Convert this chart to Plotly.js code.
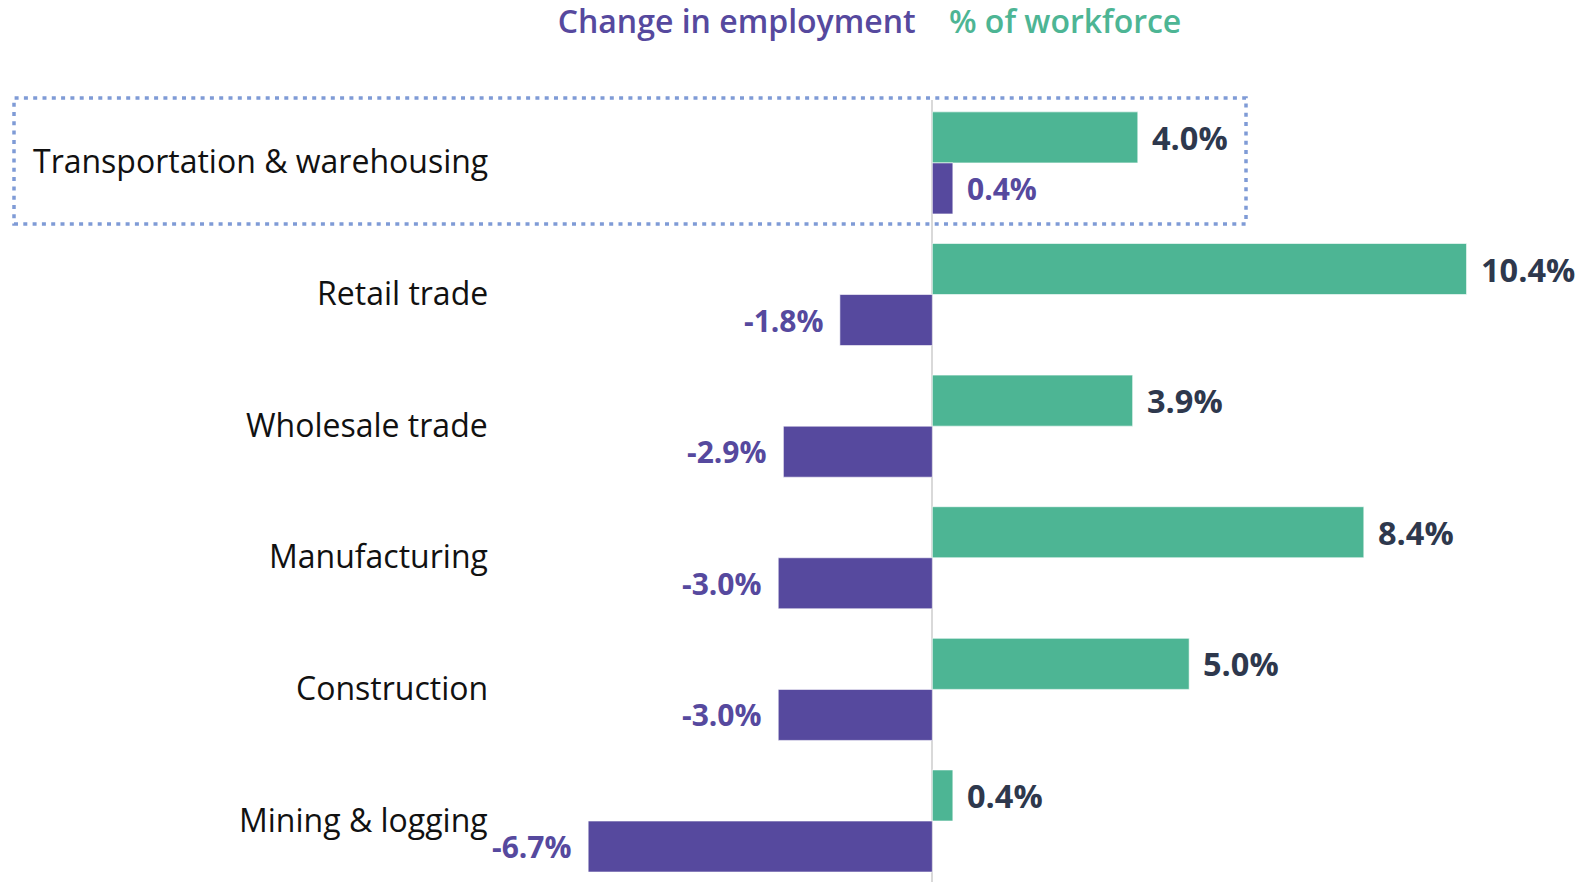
<!DOCTYPE html>
<html>
<head>
<meta charset="utf-8">
<script src="https://cdn.plot.ly/plotly-3.0.1.min.js"></script>
<style>html,body{margin:0;padding:0;background:#fff;}#chart{width:1596px;height:882px;}</style>
</head>
<body>
<div id="chart"></div>
<script>
// Data (top to bottom as in the picture)
const categories = ["Transportation & warehousing", "Retail trade", "Wholesale trade", "Manufacturing", "Construction", "Mining & logging"];
const workforceShare = [4.0, 10.4, 3.9, 8.4, 5.0, 0.4];      // % of workforce
const employmentChange = [0.4, -1.8, -2.9, -3.0, -3.0, -6.7]; // change in employment
const workforceLabels = ["4.0%", "10.4%", "3.9%", "8.4%", "5.0%", "0.4%"];
const changeLabels = ["0.4%", "-1.8%", "-2.9%", "-3.0%", "-3.0%", "-6.7%"];

const PURPLE = "#56499e";
const GREEN = "#4db594";
const DARK = "#2e384d";
const FONT = "Open Sans, Noto Sans, sans-serif";

const traces = [
  {
    type: "bar", orientation: "h", name: "% of workforce",
    y: categories, x: workforceShare,
    marker: {color: GREEN, line: {color: "rgba(255,255,255,0.6)", width: 1}},
    hoverinfo: "skip"
  },
  {
    type: "bar", orientation: "h", name: "Change in employment",
    y: categories, x: employmentChange,
    marker: {color: PURPLE, line: {color: "rgba(255,255,255,0.6)", width: 1}},
    hoverinfo: "skip"
  }
];

const annotations = [];
categories.forEach((c, i) => {
  annotations.push({
    xref: "paper", yref: "y", x: 490 / 1596, y: c, xanchor: "right", yanchor: "middle",
    yshift: 2, text: c, showarrow: false, font: {family: FONT, size: 32, color: "#111111"}
  });
  annotations.push({
    xref: "x", yref: "y", x: workforceShare[i], y: c, xanchor: "left", yanchor: "middle",
    xshift: 12, yshift: 25.5, text: workforceLabels[i], showarrow: false,
    font: {family: FONT, size: 32.5, color: DARK, weight: 700}
  });
  const v = employmentChange[i];
  annotations.push({
    xref: "x", yref: "y", x: v, y: c, xanchor: v >= 0 ? "left" : "right", yanchor: "middle",
    xshift: v >= 0 ? 12 : -14, yshift: -25.5, text: changeLabels[i], showarrow: false,
    font: {family: FONT, size: 30, color: PURPLE, weight: 700}
  });
});

const layout = {
  width: 1596, height: 882,
  margin: {l: 0, r: 0, t: 100, b: 0, pad: 0},
  paper_bgcolor: "#ffffff", plot_bgcolor: "#ffffff",
  showlegend: false,
  barmode: "group", bargap: 0.2244, bargroupgap: 0,
  title: {
    text: '<span style="color:' + PURPLE + '">Change in employment</span>&nbsp;&nbsp;&nbsp;&nbsp;<span style="color:' + GREEN + '">% of workforce</span>',
    x: 869.5 / 1596, xanchor: "center", xref: "paper",
    y: 1 - 22 / 882, yanchor: "middle", yref: "container",
    font: {family: FONT, size: 32, weight: 600}
  },
  xaxis: {
    range: [-18.15, 12.92], showgrid: false, showticklabels: false, ticks: "",
    zeroline: true, zerolinecolor: "#d9d9d9", zerolinewidth: 2, showline: false, fixedrange: true
  },
  yaxis: {
    type: "category", range: [5.4635, -0.478], showgrid: false, showticklabels: false,
    ticks: "", zeroline: false, showline: false, fixedrange: true
  },
  shapes: [{
    type: "rect", xref: "paper", yref: "paper",
    x0: 14 / 1596, x1: 1246 / 1596, y0: (882 - 224) / 782, y1: (882 - 98) / 782,
    line: {color: "#7f9bd6", width: 3.5, dash: "4px,5.3px"}, fillcolor: "rgba(0,0,0,0)", layer: "above"
  }],
  annotations: annotations,
  font: {family: FONT}
};

Plotly.newPlot("chart", traces, layout, {staticPlot: true, displayModeBar: false});
</script>
</body>
</html>
